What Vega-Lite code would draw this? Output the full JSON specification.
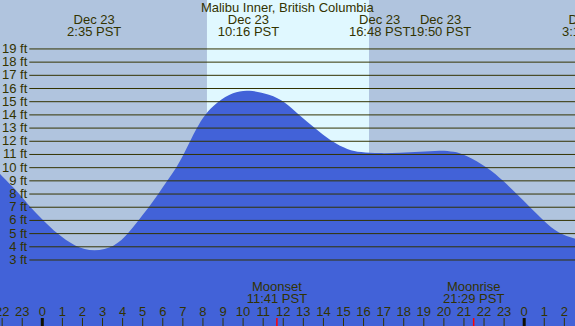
{
  "$schema": "https://vega.github.io/schema/vega-lite/v6.json",
  "width": 575,
  "height": 326,
  "padding": 0,
  "autosize": {"type": "none"},
  "background": "#b0c4de",
  "config": {"view": {"stroke": null}, "text": {"font": "Liberation Sans", "fontSize": 13, "color": "#333300"}},
  "datasets": {
    "sun": [{"rise": 8.2, "set": 16.27}],
    "tide": [
      {"h": -2.6, "ft": 10.3}, {"h": -2.107, "ft": 9.5}, {"h": -1.11, "ft": 8.0}, {"h": -0.61, "ft": 7.0},
      {"h": 0.05, "ft": 6.0}, {"h": 0.73, "ft": 5.0}, {"h": 1.63, "ft": 4.0}, {"h": 2.58, "ft": 3.62},
      {"h": 3.62, "ft": 4.0}, {"h": 4.28, "ft": 5.0}, {"h": 4.78, "ft": 6.0}, {"h": 5.31, "ft": 7.0},
      {"h": 5.78, "ft": 8.0}, {"h": 6.22, "ft": 9.0}, {"h": 6.68, "ft": 10.0}, {"h": 7.04, "ft": 11.0},
      {"h": 7.36, "ft": 12.0}, {"h": 7.69, "ft": 13.0}, {"h": 8.07, "ft": 14.0}, {"h": 8.72, "ft": 15.0},
      {"h": 9.5, "ft": 15.72}, {"h": 10.27, "ft": 15.92}, {"h": 11.34, "ft": 15.55}, {"h": 12.09, "ft": 15.0},
      {"h": 12.78, "ft": 14.0}, {"h": 13.57, "ft": 13.0}, {"h": 14.37, "ft": 12.0}, {"h": 15.24, "ft": 11.34},
      {"h": 15.82, "ft": 11.17}, {"h": 16.8, "ft": 11.08}, {"h": 17.8, "ft": 11.12}, {"h": 18.81, "ft": 11.19},
      {"h": 19.83, "ft": 11.32}, {"h": 20.5, "ft": 11.22}, {"h": 21.05, "ft": 11.0}, {"h": 22.21, "ft": 10.0},
      {"h": 22.96, "ft": 9.0}, {"h": 23.63, "ft": 8.0}, {"h": 24.29, "ft": 7.0}, {"h": 24.95, "ft": 6.0},
      {"h": 25.7, "ft": 5.0}, {"h": 26.53, "ft": 4.6}, {"h": 27.2, "ft": 4.4}
    ],
    "grid": [
      {"ft": 3, "lab": "3 ft"}, {"ft": 4, "lab": "4 ft"}, {"ft": 5, "lab": "5 ft"}, {"ft": 6, "lab": "6 ft"},
      {"ft": 7, "lab": "7 ft"}, {"ft": 8, "lab": "8 ft"}, {"ft": 9, "lab": "9 ft"}, {"ft": 10, "lab": "10 ft"},
      {"ft": 11, "lab": "11 ft"}, {"ft": 12, "lab": "12 ft"}, {"ft": 13, "lab": "13 ft"}, {"ft": 14, "lab": "14 ft"},
      {"ft": 15, "lab": "15 ft"}, {"ft": 16, "lab": "16 ft"}, {"ft": 17, "lab": "17 ft"}, {"ft": 18, "lab": "18 ft"},
      {"ft": 19, "lab": "19 ft"}
    ],
    "hours": [
      {"h": -2, "label": "22", "mid": false}, {"h": -1, "label": "23", "mid": false},
      {"h": 0, "label": "0", "mid": true}, {"h": 1, "label": "1", "mid": false},
      {"h": 2, "label": "2", "mid": false}, {"h": 3, "label": "3", "mid": false},
      {"h": 4, "label": "4", "mid": false}, {"h": 5, "label": "5", "mid": false},
      {"h": 6, "label": "6", "mid": false}, {"h": 7, "label": "7", "mid": false},
      {"h": 8, "label": "8", "mid": false}, {"h": 9, "label": "9", "mid": false},
      {"h": 10, "label": "10", "mid": false}, {"h": 11, "label": "11", "mid": false},
      {"h": 12, "label": "12", "mid": false}, {"h": 13, "label": "13", "mid": false},
      {"h": 14, "label": "14", "mid": false}, {"h": 15, "label": "15", "mid": false},
      {"h": 16, "label": "16", "mid": false}, {"h": 17, "label": "17", "mid": false},
      {"h": 18, "label": "18", "mid": false}, {"h": 19, "label": "19", "mid": false},
      {"h": 20, "label": "20", "mid": false}, {"h": 21, "label": "21", "mid": false},
      {"h": 22, "label": "22", "mid": false}, {"h": 23, "label": "23", "mid": false},
      {"h": 24, "label": "0", "mid": true}, {"h": 25, "label": "1", "mid": false},
      {"h": 26, "label": "2", "mid": false}
    ],
    "extremes": [
      {"h": 2.583, "d": "Dec 23", "t": "2:35 PST"},
      {"h": 10.267, "d": "Dec 23", "t": "10:16 PST"},
      {"h": 16.8, "d": "Dec 23", "t": "16:48 PST"},
      {"h": 19.833, "d": "Dec 23", "t": "19:50 PST"},
      {"h": 27.233, "d": "Dec 24", "t": "3:14 PST"}
    ],
    "moon": [
      {"h": 11.683, "name": "Moonset", "t": "11:41 PST"},
      {"h": 21.483, "name": "Moonrise", "t": "21:29 PST"}
    ],
    "title": [{"h": 12.2, "text": "Malibu Inner, British Columbia"}]
  },
  "layer": [
    {
      "data": {"name": "sun"},
      "mark": {"type": "rect", "color": "#e0f8ff"},
      "encoding": {
        "x": {"field": "rise", "type": "quantitative", "scale": {"domain": [-2.107, 26.53], "nice": false, "zero": false}, "axis": null},
        "x2": {"field": "set"}
      }
    },
    {
      "data": {"name": "tide"},
      "mark": {"type": "area", "color": "#4262d8", "interpolate": "basis", "clip": true},
      "encoding": {
        "x": {"field": "h", "type": "quantitative", "scale": {"domain": [-2.107, 26.53], "nice": false, "zero": false}, "axis": null},
        "y": {"field": "ft", "type": "quantitative", "scale": {"domain": [-2.004, 22.71], "nice": false, "zero": false}, "axis": null},
        "y2": {"datum": -2.2}
      }
    },
    {
      "data": {"name": "grid"},
      "mark": {"type": "rule", "color": "#333300", "strokeWidth": 1},
      "encoding": {
        "x": {"datum": -0.647, "type": "quantitative"},
        "x2": {"datum": 26.6},
        "y": {"field": "ft", "type": "quantitative"}
      }
    },
    {
      "data": {"name": "grid"},
      "mark": {"type": "text", "align": "right", "baseline": "middle"},
      "encoding": {
        "x": {"datum": -0.75, "type": "quantitative"},
        "y": {"field": "ft", "type": "quantitative"},
        "text": {"field": "lab"}
      }
    },
    {
      "data": {"name": "hours"},
      "mark": {"type": "rule", "color": "#333300", "strokeWidth": 1},
      "transform": [{"filter": "!datum.mid"}],
      "encoding": {
        "x": {"field": "h", "type": "quantitative"},
        "y": {"datum": -1.4, "type": "quantitative"},
        "y2": {"datum": -2.2}
      }
    },
    {
      "data": {"name": "hours"},
      "mark": {"type": "rule", "color": "#111100", "strokeWidth": 3},
      "transform": [{"filter": "datum.mid"}],
      "encoding": {
        "x": {"field": "h", "type": "quantitative"},
        "y": {"datum": -1.4, "type": "quantitative"},
        "y2": {"datum": -2.2}
      }
    },
    {
      "data": {"name": "hours"},
      "mark": {"type": "text", "align": "center", "baseline": "middle"},
      "encoding": {
        "x": {"field": "h", "type": "quantitative"},
        "y": {"datum": -0.92, "type": "quantitative"},
        "text": {"field": "label"}
      }
    },
    {
      "data": {"name": "moon"},
      "mark": {"type": "rule", "color": "#ff0000", "strokeWidth": 1.5},
      "encoding": {
        "x": {"field": "h", "type": "quantitative"},
        "y": {"datum": -1.4, "type": "quantitative"},
        "y2": {"datum": -2.2}
      }
    },
    {
      "data": {"name": "moon"},
      "mark": {"type": "text", "align": "center", "baseline": "middle"},
      "encoding": {
        "x": {"field": "h", "type": "quantitative"},
        "y": {"datum": 0.93, "type": "quantitative"},
        "text": {"field": "name"}
      }
    },
    {
      "data": {"name": "moon"},
      "mark": {"type": "text", "align": "center", "baseline": "middle"},
      "encoding": {
        "x": {"field": "h", "type": "quantitative"},
        "y": {"datum": 0.02, "type": "quantitative"},
        "text": {"field": "t"}
      }
    },
    {
      "data": {"name": "extremes"},
      "mark": {"type": "text", "align": "center", "baseline": "middle"},
      "encoding": {
        "x": {"field": "h", "type": "quantitative"},
        "y": {"datum": 21.23, "type": "quantitative"},
        "text": {"field": "d"}
      }
    },
    {
      "data": {"name": "extremes"},
      "mark": {"type": "text", "align": "center", "baseline": "middle"},
      "encoding": {
        "x": {"field": "h", "type": "quantitative"},
        "y": {"datum": 20.32, "type": "quantitative"},
        "text": {"field": "t"}
      }
    },
    {
      "data": {"name": "title"},
      "mark": {"type": "text", "align": "center", "baseline": "middle"},
      "encoding": {
        "x": {"field": "h", "type": "quantitative"},
        "y": {"datum": 22.14, "type": "quantitative"},
        "text": {"field": "text"}
      }
    }
  ]
}
